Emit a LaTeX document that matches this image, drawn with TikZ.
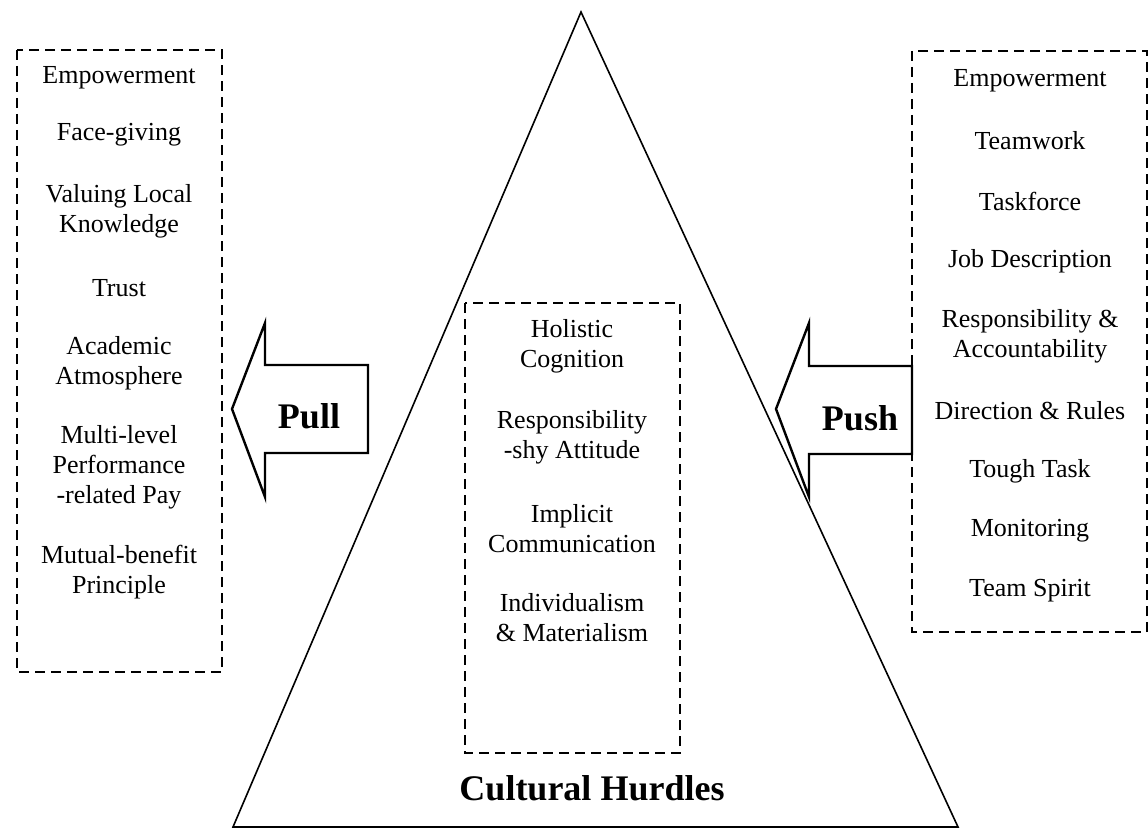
\documentclass[tikz,border=0pt]{standalone}
\usepackage{fontspec}
\setmainfont{Liberation Serif}
\begin{document}
\begin{tikzpicture}[x=1pt, y=-1pt,
  dashbox/.style={draw, line width=2.4pt, dash pattern=on 10pt off 6pt},
  item/.style={font=\fontsize{26}{30}\selectfont, align=center},
  big/.style={font=\fontsize{36}{40}\selectfont\bfseries},
  block/.style={draw, line width=2.4pt, line join=miter}]
\useasboundingbox (0,0) rectangle (1148,829);
\draw[line width=1.6pt, line join=miter] (581,12) -- (233,827) -- (958,827) -- cycle;
\draw[dashbox] (17,50) rectangle (222,672);
\draw[dashbox] (912,51) rectangle (1147,632);
\draw[dashbox] (465,303) rectangle (680,753);
\draw[block] (232,409) -- (265,323) -- (265,365) -- (368,365) -- (368,453) -- (265,453) -- (265,497) -- cycle;
\draw[block] (776,409) -- (809,323) -- (809,366) -- (912,366) -- (912,454) -- (809,454) -- (809,497) -- cycle;
\node[big] (pull) at (309,416) {Pull};
\node[big] (push) at (860,418) {Push};
\node[big] (hurdles) at (592,788) {Cultural Hurdles};
\node[item] (emp-l) at (119,78) {Empowerment};
\node[item] (face) at (119,135) {Face-giving};
\node[item] (local) at (119,211) {Valuing Local\\Knowledge};
\node[item] (trust) at (119,288) {Trust};
\node[item] (acad) at (119,363) {Academic\\Atmosphere};
\node[item] (pay) at (119,467) {Multi-level\\Performance\\-related Pay};
\node[item] (mutual) at (119,572) {Mutual-benefit\\Principle};
\node[item] (holistic) at (572,346) {Holistic\\Cognition};
\node[item] (shy) at (572,437) {Responsibility\\-shy Attitude};
\node[item] (implicit) at (572,529) {Implicit\\Communication};
\node[item] (indiv) at (572,618) {Individualism\\\& Materialism};
\node[item] (emp-r) at (1030,81) {Empowerment};
\node[item] (team) at (1030,141) {Teamwork};
\node[item] (task) at (1030,201) {Taskforce};
\node[item] (job) at (1030,261) {Job Description};
\node[item] (resp) at (1030,336) {Responsibility \&\\Accountability};
\node[item] (dir) at (1030,411) {Direction \& Rules};
\node[item] (tough) at (1030,471) {Tough Task};
\node[item] (monit) at (1030,531) {Monitoring};
\node[item] (spirit) at (1030,591) {Team Spirit};
\end{tikzpicture}
\end{document}
